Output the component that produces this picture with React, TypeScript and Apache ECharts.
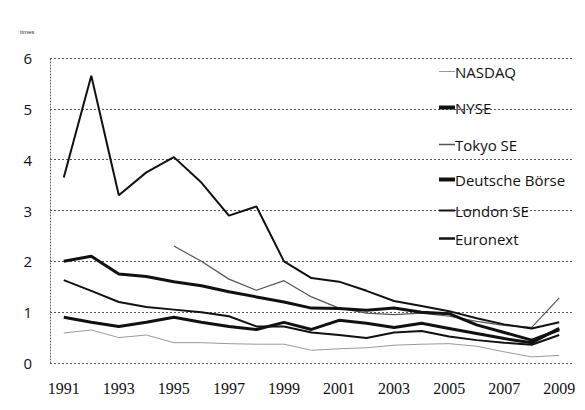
import React, { useEffect, useRef } from "react";
import * as echarts from "echarts";

const years = ["1991","1992","1993","1994","1995","1996","1997","1998","1999","2000","2001","2002","2003","2004","2005","2006","2007","2008","2009"];
const nasdaq = [0.59, 0.65, 0.5, 0.55, 0.4, 0.4, 0.38, 0.37, 0.37, 0.25, 0.28, 0.3, 0.35, 0.37, 0.38, 0.33, 0.22, 0.12, 0.15];
const nyse = [2.0, 2.1, 1.75, 1.7, 1.6, 1.52, 1.4, 1.3, 1.2, 1.08, 1.07, 1.04, 1.08, 1.0, 0.97, 0.75, 0.6, 0.45, 0.65];
const tokyo = [null, null, null, null, 2.3, 2.0, 1.65, 1.43, 1.62, 1.3, 1.08, 0.98, 0.95, 0.98, 0.92, 0.82, 0.74, 0.7, 1.28];
const deutsche = [0.9, 0.8, 0.72, 0.8, 0.9, 0.8, 0.72, 0.66, 0.8, 0.66, 0.84, 0.78, 0.7, 0.78, 0.68, 0.58, 0.48, 0.4, 0.68];
const london = [3.65, 5.65, 3.3, 3.75, 4.05, 3.55, 2.9, 3.08, 2.0, 1.67, 1.6, 1.42, 1.22, 1.12, 1.02, 0.88, 0.76, 0.68, 0.8];
const euronext = [1.63, 1.42, 1.2, 1.1, 1.05, 1.0, 0.92, 0.72, 0.72, 0.6, 0.55, 0.49, 0.6, 0.63, 0.52, 0.45, 0.4, 0.36, 0.55];
const seriesNames = ["NASDAQ", "NYSE", "Tokyo SE", "Deutsche Börse", "London SE", "Euronext"];

export default function App() {
  const ref = useRef<HTMLDivElement>(null);
  useEffect(() => {
    if (!ref.current) return;
    const chart = echarts.init(ref.current, null, { renderer: "svg" });
    const styles: Record<string, { color: string; width: number; z: number }> = {
      "NASDAQ": { color: "#9a9a9a", width: 1, z: 2 },
      "NYSE": { color: "#111", width: 3, z: 5 },
      "Tokyo SE": { color: "#555", width: 1.2, z: 3 },
      "Deutsche Börse": { color: "#111", width: 3, z: 5 },
      "London SE": { color: "#111", width: 2, z: 4 },
      "Euronext": { color: "#111", width: 2, z: 4 },
    };
    const dataMap: Record<string, (number | null)[]> = {
      "NASDAQ": nasdaq, "NYSE": nyse, "Tokyo SE": tokyo,
      "Deutsche Börse": deutsche, "London SE": london, "Euronext": euronext,
    };
    const legendCenters = [73, 109, 146, 181, 212, 240];
    const legendIconH = [1, 4, 1.5, 4, 2, 2.5];
    const legends = seriesNames.map((n, i) => ({
      data: [n], left: 434, top: legendCenters[i] - 14, height: 20, icon: "rect",
      itemWidth: 16, itemHeight: legendIconH[i], itemGap: 0,
      textStyle: { fontSize: 15, color: "#111", fontFamily: "'Open Sans', sans-serif", padding: [0, 0, 0, -5] },
    }));
    chart.setOption({
      animation: false,
      backgroundColor: "#fff",
      grid: { left: 50, right: 12, top: 58, bottom: 47, containLabel: false },
      graphic: [
        { type: "text", left: 20, top: 29, style: { text: "times", fontSize: 6, fill: "#333", fontFamily: "Liberation Sans" } },
      ],
      legend: legends,
      xAxis: {
        type: "category", data: years, boundaryGap: true,
        axisLine: { show: false }, axisTick: { show: false },
        axisLabel: { interval: 1, fontSize: 16, color: "#111", fontFamily: "'Liberation Serif', serif", margin: 17 },
      },
      yAxis: {
        type: "value", min: 0, max: 6, interval: 1,
        axisLine: { show: true, lineStyle: { color: "#666", type: [1, 2], width: 1 } },
        axisTick: { show: false },
        axisLabel: { fontSize: 15, color: "#111", fontFamily: "'Open Sans', sans-serif", margin: 18 },
        splitLine: { show: true, lineStyle: { color: "#555", type: [2, 2], width: 1 } },
      },
      series: seriesNames.map((n) => ({
        name: n, type: "line", data: dataMap[n], symbol: "none", z: styles[n].z,
        lineStyle: { color: styles[n].color, width: styles[n].width },
        itemStyle: { color: styles[n].color },
      })),
    });
    return () => chart.dispose();
  }, []);
  return <div ref={ref} style={{ width: 585, height: 410, position: "absolute", left: 0, top: 0 }} />;
}
